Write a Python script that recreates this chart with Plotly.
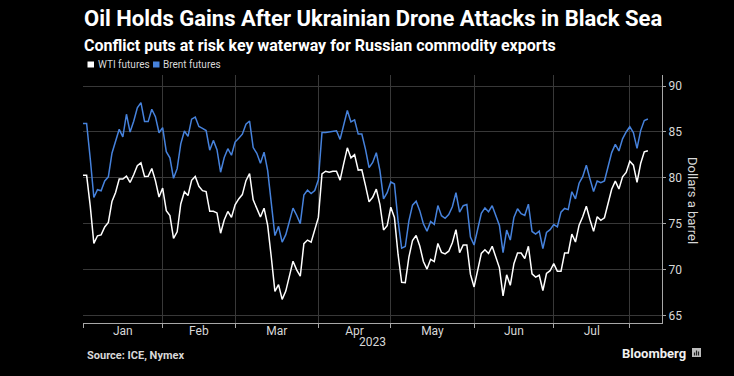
import pandas as pd
import plotly.graph_objects as go

# ---- data (daily closes, weekdays from 2022-12-30 to 2023-08-07; holidays carry prior value) ----
dates = pd.bdate_range("2022-12-30", "2023-08-07")

wti = [
    80.26,  # Dec 30
    # Jan
    80.26, 76.93, 72.84, 73.67, 73.77, 74.63, 75.12, 77.41, 78.39, 79.86, 79.86,
    80.18, 79.48, 80.33, 81.31, 81.62, 80.13, 80.15, 81.01, 79.68, 77.90, 78.87,
    # Feb
    76.41, 75.88, 73.39, 74.11, 77.14, 78.47, 78.06, 79.72, 80.14, 79.06, 78.59,
    78.49, 76.34, 76.34, 76.16, 73.95, 75.39, 76.32, 75.68, 77.05,
    # Mar
    77.69, 78.16, 79.68, 80.46, 77.58, 76.66, 75.72, 76.68, 74.80, 71.33, 67.61,
    68.35, 66.74, 67.64, 69.33, 70.90, 69.96, 69.26, 72.81, 73.20, 72.97, 74.37, 75.67,
    # Apr
    80.42, 80.71, 80.61, 80.70, 80.70, 79.74, 81.53, 83.26, 82.16, 82.52, 80.83,
    80.86, 79.16, 77.37, 77.87, 78.76, 77.07, 74.30, 74.76, 76.78,
    # May
    75.66, 71.66, 68.60, 68.56, 71.34, 73.16, 73.71, 72.56, 70.87, 70.04, 71.11,
    70.86, 72.83, 71.86, 71.69, 71.99, 72.91, 74.34, 71.83, 72.67, 72.67, 69.46, 68.09,
    # Jun
    70.10, 71.74, 72.15, 71.74, 72.53, 71.29, 70.17, 67.12, 69.42, 68.27, 70.62,
    71.78, 71.78, 71.19, 72.53, 69.51, 69.16, 69.37, 67.70, 69.56, 69.86, 70.64,
    # Jul
    69.79, 69.79, 71.79, 71.80, 73.86, 72.99, 74.83, 75.75, 76.89, 75.42, 74.15,
    75.75, 75.35, 75.63, 77.07, 78.74, 79.63, 78.78, 80.09, 80.58, 81.80,
    # Aug
    81.37, 79.49, 81.55, 82.82, 82.95,
]

brent = [
    85.91,  # Dec 30
    # Jan
    85.91, 82.10, 77.84, 78.69, 78.57, 79.65, 80.10, 82.67, 84.03, 85.28, 84.46,
    86.92, 84.98, 86.16, 87.63, 88.19, 86.13, 86.12, 87.47, 86.66, 84.90, 85.46,
    # Feb
    82.84, 82.17, 79.94, 80.99, 83.69, 85.09, 84.50, 86.39, 86.61, 85.58, 85.38,
    85.14, 83.00, 84.07, 83.05, 80.60, 82.21, 83.16, 82.45, 83.89,
    # Mar
    84.31, 84.75, 85.83, 86.18, 83.29, 82.66, 81.59, 82.78, 80.77, 77.45, 73.69,
    74.70, 72.97, 73.79, 75.32, 76.69, 75.91, 74.99, 78.12, 78.65, 78.28, 78.60, 79.77,
    # Apr
    84.93, 84.94, 84.99, 85.12, 85.12, 84.18, 85.61, 87.33, 86.09, 86.31, 84.76,
    84.77, 83.12, 81.10, 81.66, 82.73, 80.77, 77.69, 78.37, 79.54,
    # May
    79.31, 75.32, 72.33, 72.50, 75.30, 77.01, 77.44, 76.41, 74.98, 74.17, 75.23,
    74.91, 76.96, 75.86, 75.58, 75.99, 76.84, 78.36, 76.26, 76.95, 77.07, 73.54, 72.66,
    # Jun
    74.28, 76.13, 76.71, 76.29, 76.95, 75.96, 74.79, 71.84, 74.29, 73.20, 75.67,
    76.61, 76.09, 75.90, 77.12, 74.14, 73.85, 74.18, 72.26, 74.03, 74.34, 74.90,
    # Jul
    74.65, 76.25, 76.65, 76.52, 78.47, 77.69, 79.40, 80.11, 81.36, 79.87, 78.50,
    79.63, 79.46, 79.64, 81.07, 82.74, 83.64, 82.92, 84.24, 84.99, 85.56,
    # Aug
    84.91, 83.20, 85.14, 86.24, 86.40,
]

series_names = ["WTI futures", "Brent futures"]
month_labels = ["Jan", "Feb", "Mar", "Apr", "May", "Jun", "Jul"]
month_label_pos = ["2023-01-16", "2023-02-14", "2023-03-15 12:00", "2023-04-14",
                   "2023-05-15 12:00", "2023-06-15", "2023-07-14 12:00"]
month_bounds = ["2022-12-30", "2023-01-31", "2023-02-28", "2023-03-31",
                "2023-04-28", "2023-05-31", "2023-06-30", "2023-07-31"]
y_ticks = [65, 70, 75, 80, 85, 90]

# ---- style ----
W, H = 734, 376
L, R, T, B = 83, 72, 75, 53
PW, PH = W - L - R, H - T - B
WHITE = "#ffffff"
BLUE = "#4682dc"
GRID = "#383838"
AXIS = "#a8a8a8"
TXT = "#d8d8d8"
FONT = "Roboto"


def px(xp):
    return (xp - L) / PW


def py(yp):
    return (H - B - yp) / PH


fig = go.Figure()
fig.add_trace(go.Scatter(x=dates, y=wti, mode="lines", name=series_names[0],
                         line=dict(color=WHITE, width=1.5), showlegend=False))
fig.add_trace(go.Scatter(x=dates, y=brent, mode="lines", name=series_names[1],
                         line=dict(color=BLUE, width=1.5), showlegend=False))

fig.update_layout(
    width=W, height=H,
    margin=dict(l=L, r=R, t=T, b=B),
    paper_bgcolor="#000000", plot_bgcolor="#000000",
    font=dict(family=FONT, color=TXT, size=12),
    xaxis=dict(
        type="date",
        range=["2022-12-30", "2023-08-10 21:30"],
        rangebreaks=[dict(bounds=["sat", "mon"])],
        tickmode="array", tickvals=month_label_pos, ticktext=month_labels,
        ticks="", showgrid=False, zeroline=False,
        showline=True, linecolor=AXIS, linewidth=1,
        ticklabelstandoff=-3,
        tickfont=dict(size=12, color=TXT, family=FONT),
        minor=dict(tickmode="array", tickvals=month_bounds, ticks="outside",
                   ticklen=4, tickcolor=AXIS, showgrid=True, gridcolor=GRID,
                   gridwidth=1),
    ),
    yaxis=dict(
        side="right", range=[64.16, 91.2],
        tickmode="array", tickvals=y_ticks,
        ticks="outside", ticklen=3, tickcolor=AXIS,
        showline=True, linecolor=AXIS, linewidth=1,
        showgrid=True, gridcolor=GRID, gridwidth=1, zeroline=False,
        tickfont=dict(size=12, color=TXT, family=FONT),
    ),
)

annotations = [
    dict(text="<b>Oil Holds Gains After Ukrainian Drone Attacks in Black Sea</b>",
         x=px(82), y=py(19), xanchor="left", yanchor="middle",
         font=dict(size=22, color="#ffffff", family=FONT)),
    dict(text="<b>Conflict puts at risk key waterway for Russian commodity exports</b>",
         x=px(82), y=py(45), xanchor="left", yanchor="middle",
         font=dict(size=16, color="#ffffff", family=FONT)),
    dict(text=series_names[0], x=px(96), y=py(64.5), xanchor="left", yanchor="middle",
         font=dict(size=10, color=TXT, family=FONT)),
    dict(text=series_names[1], x=px(161), y=py(64.5), xanchor="left", yanchor="middle",
         font=dict(size=10, color=TXT, family=FONT)),
    dict(text="Dollars a barrel", x=px(693), y=py(200), xanchor="center", yanchor="middle",
         textangle=90, font=dict(size=13, color=TXT, family=FONT)),
    dict(text="2023", x=0.5, y=py(341.5), xanchor="center", yanchor="middle",
         font=dict(size=12, color=TXT, family=FONT)),
    dict(text="<b>Source: ICE, Nymex</b>", x=px(85), y=py(355), xanchor="left",
         yanchor="middle", font=dict(size=11, color=TXT, family=FONT)),
    dict(text="<b>Bloomberg</b>", x=px(688), y=py(353), xanchor="right",
         yanchor="middle", font=dict(size=13, color="#f0f0f0", family=FONT)),
]
for a in annotations:
    a.update(xref="paper", yref="paper", showarrow=False)
fig.update_layout(annotations=annotations)

shapes = [
    dict(type="rect", x0=px(87.5), x1=px(94), y0=py(67.5), y1=py(61.5),
         fillcolor=WHITE, line=dict(width=0)),
    dict(type="rect", x0=px(153), x1=px(159.5), y0=py(67.5), y1=py(61.5),
         fillcolor=BLUE, line=dict(width=0)),
    dict(type="rect", x0=px(692), x1=px(701), y0=py(357), y1=py(348),
         fillcolor="#bdbdbd", line=dict(width=0)),
    dict(type="line", x0=px(694.5), x1=px(694.5), y0=py(355.5), y1=py(352.5),
         line=dict(color="#222222", width=1.2)),
    dict(type="line", x0=px(696.5), x1=px(696.5), y0=py(355.5), y1=py(350.5),
         line=dict(color="#222222", width=1.2)),
    dict(type="line", x0=px(698.5), x1=px(698.5), y0=py(355.5), y1=py(351.5),
         line=dict(color="#222222", width=1.2)),
]
for s in shapes:
    s.update(xref="paper", yref="paper")
fig.update_layout(shapes=shapes)

fig.write_html(
    "out.html",
    config={"displayModeBar": False},
    post_script="document.body.style.margin='0';document.body.style.background='#000';",
)
